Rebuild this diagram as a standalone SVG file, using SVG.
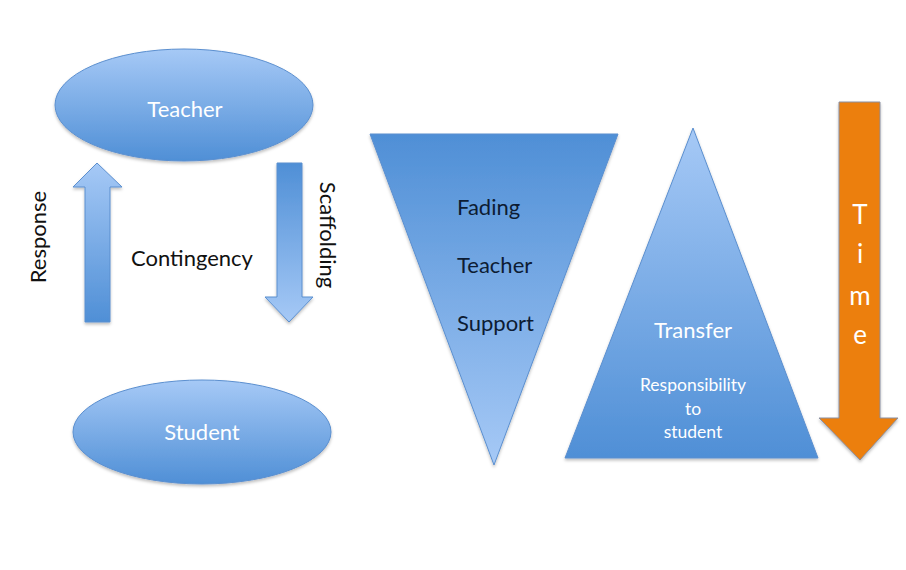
<svg xmlns="http://www.w3.org/2000/svg" width="906" height="570" viewBox="0 0 906 570">
<defs>
<linearGradient id="lightTop" x1="0" y1="0" x2="0" y2="1">
<stop offset="0" stop-color="#a6c9f6"/>
<stop offset="1" stop-color="#4f8fd6"/>
</linearGradient>
<linearGradient id="darkTop" x1="0" y1="0" x2="0" y2="1">
<stop offset="0" stop-color="#4f8fd6"/>
<stop offset="1" stop-color="#a6c9f6"/>
</linearGradient>
<filter id="sh" x="-10%" y="-10%" width="120%" height="130%">
<feDropShadow dx="0" dy="2" stdDeviation="1.5" flood-color="#000" flood-opacity="0.25"/>
</filter>
<style>
.blue{stroke:#5b8fcf;stroke-width:1;filter:url(#sh)}
.w{fill:#ffffff;font-family:Lato,"Open Sans",sans-serif;text-anchor:middle}
.d{fill:#111111;font-family:Lato,"Open Sans",sans-serif}
.n{fill:#0d1c33;font-family:Lato,"Open Sans",sans-serif;font-size:22px}
</style>
</defs>
<rect width="906" height="570" fill="#ffffff"/>
<g id="teacher">
<ellipse class="blue" cx="184" cy="105" rx="129" ry="56" fill="url(#lightTop)"/>
<text class="w" x="185" y="117" font-size="22">Teacher</text>
</g>
<g id="student">
<ellipse class="blue" cx="202" cy="432" rx="129" ry="52" fill="url(#lightTop)"/>
<text class="w" x="202" y="440" font-size="22">Student</text>
</g>
<g id="connectors">
<g id="response">
<polygon class="blue" points="97,163 122,187 110,187 110,322 85,322 85,187 73,187" fill="url(#lightTop)"/>
<text class="d" x="0" y="0" font-size="22" text-anchor="middle" transform="translate(46,237) rotate(-90)">Response</text>
</g>
<g id="scaffolding">
<polygon class="blue" points="277,163 302,163 302,297 313,297 289,322 265,297 277,297" fill="url(#darkTop)"/>
<text class="d" x="0" y="0" font-size="22" text-anchor="middle" transform="translate(320,235) rotate(90)">Scaffolding</text>
</g>
</g>
<g id="contingency">
<text class="d" x="192" y="266" font-size="22" text-anchor="middle">Contingency</text>
</g>
<g id="fading">
<polygon class="blue" points="370,134 618,134 494,465" fill="url(#darkTop)"/>
<text class="n" x="457" y="215">Fading</text>
<text class="n" x="457" y="273">Teacher</text>
<text class="n" x="457" y="331">Support</text>
</g>
<g id="transfer">
<polygon class="blue" points="693,128 818,458 565,458" fill="url(#lightTop)"/>
<text class="w" x="693" y="338" font-size="22">Transfer</text>
<text class="w" x="693" y="391" font-size="17.5">Responsibility</text>
<text class="w" x="693" y="415" font-size="17.5">to</text>
<text class="w" x="693" y="438" font-size="17.5">student</text>
</g>
<g id="time">
<polygon points="839,102 880,102 880,418 898,418 860,460 819,418 839,418" fill="#ec7f0d" stroke="#8a8fa0" stroke-width="1" filter="url(#sh)"/>
<text class="w" x="860" y="224" font-size="26">T</text>
<text class="w" x="860" y="263" font-size="26">i</text>
<text class="w" x="860" y="305" font-size="26">m</text>
<text class="w" x="860" y="344" font-size="26">e</text>
</g>
</svg>
